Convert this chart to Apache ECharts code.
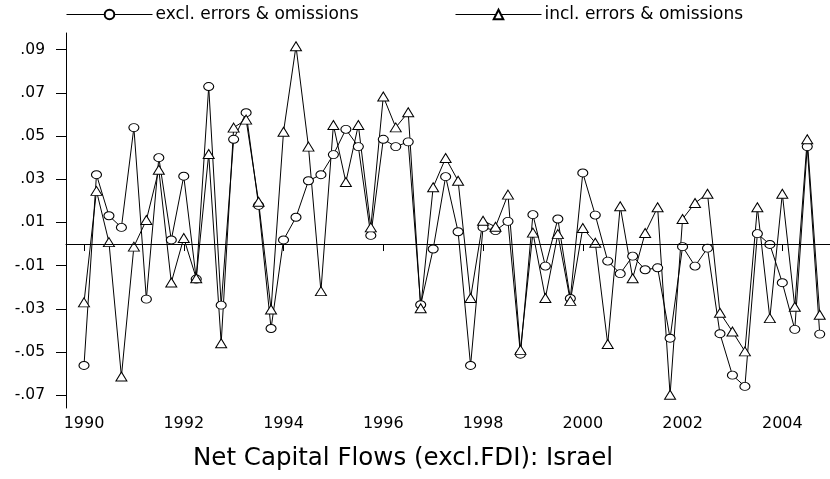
<!DOCTYPE html>
<html>
<head>
<meta charset="utf-8">
<script src="https://cdn.jsdelivr.net/npm/echarts@6/dist/echarts.min.js"></script>
<style>html,body{margin:0;padding:0;background:#fff}#c{width:830px;height:479px}</style>
</head>
<body>
<div id="c"></div>
<script>
// Quarterly observations, 1990Q1 .. 2004Q4 (decimal years)
var quarters = [
  1990, 1990.25, 1990.5, 1990.75, 1991, 1991.25, 1991.5, 1991.75,
  1992, 1992.25, 1992.5, 1992.75, 1993, 1993.25, 1993.5, 1993.75,
  1994, 1994.25, 1994.5, 1994.75, 1995, 1995.25, 1995.5, 1995.75,
  1996, 1996.25, 1996.5, 1996.75, 1997, 1997.25, 1997.5, 1997.75,
  1998, 1998.25, 1998.5, 1998.75, 1999, 1999.25, 1999.5, 1999.75,
  2000, 2000.25, 2000.5, 2000.75, 2001, 2001.25, 2001.5, 2001.75,
  2002, 2002.25, 2002.5, 2002.75, 2003, 2003.25, 2003.5, 2003.75,
  2004, 2004.25, 2004.5, 2004.75
];
var exclEO = [
  -0.0562, 0.0321, 0.0131, 0.0077, 0.0539, -0.0255, 0.0400, 0.0019, 0.0314, -0.0162,
  0.0729, -0.0283, 0.0485, 0.0608, 0.0179, -0.0391, 0.0019, 0.0124, 0.0293, 0.0321,
  0.0414, 0.0531, 0.0451, 0.0040, 0.0485, 0.0451, 0.0473, -0.0281, -0.0023, 0.0312,
  0.0057, -0.0562, 0.0077, 0.0062, 0.0105, -0.0510, 0.0136, -0.0102, 0.0116, -0.0252,
  0.0329, 0.0134, -0.0079, -0.0137, -0.0056, -0.0119, -0.0110, -0.0436, -0.0012, -0.0102,
  -0.0019, -0.0415, -0.0607, -0.0659, 0.0048, -0.0002, -0.0179, -0.0395, 0.0451, -0.0417
];
var inclEO = [
  -0.0270, 0.0246, 0.0009, -0.0613, -0.0012, 0.0111, 0.0344, -0.0178, 0.0028, -0.0158,
  0.0417, -0.0459, 0.0539, 0.0576, 0.0196, -0.0303, 0.0520, 0.0916, 0.0451, -0.0218,
  0.0551, 0.0287, 0.0551, 0.0077, 0.0683, 0.0540, 0.0610, -0.0297, 0.0263, 0.0398,
  0.0293, -0.0250, 0.0108, 0.0080, 0.0229, -0.0490, 0.0053, -0.0250, 0.0046, -0.0263,
  0.0074, 0.0006, -0.0463, 0.0175, -0.0158, 0.0051, 0.0170, -0.0698, 0.0116, 0.0190,
  0.0233, -0.0318, -0.0405, -0.0497, 0.0170, -0.0343, 0.0233, -0.0290, 0.0485, -0.0327
];
var xTicks = [1990, 1992, 1994, 1996, 1998, 2000, 2002, 2004];
var yTicks = [-0.07, -0.05, -0.03, -0.01, 0.01, 0.03, 0.05, 0.07, 0.09];
var seriesNames = ['excl. errors & omissions', 'incl. errors & omissions'];
var titleText = 'Net Capital Flows (excl.FDI): Israel';

function pairs(xs, ys) { return xs.map(function (x, i) { return [x, ys[i]]; }); }

var FONT = 'DejaVu Sans';
function legendAt(name, left) {
  return {
    data: [name], left: left, top: 6, padding: 0, itemWidth: 86, itemHeight: 12, itemGap: 0,
    lineStyle: {width: 1, color: '#000'},
    textStyle: {fontFamily: FONT, fontSize: 17, color: '#000', padding: [0, 0, 0, -2]}
  };
}
var chart = echarts.init(document.getElementById('c'), null, {renderer: 'canvas'});
chart.setOption({
  animation: false,
  backgroundColor: '#fff',
  title: {
    text: titleText, left: 403, top: 446, textAlign: 'center', padding: 0,
    textStyle: {fontFamily: FONT, fontSize: 24.5, fontWeight: 'normal', color: '#000'}
  },
  legend: [legendAt(seriesNames[0], 66), legendAt(seriesNames[1], 455)],
  grid: {left: 66, right: 0, top: 33, bottom: 71, containLabel: false},
  xAxis: {
    type: 'value', min: 1989.639, max: 2004.956,
    axisLine: {show: true, lineStyle: {color: '#000', width: 1}},
    axisTick: {show: true, length: 7, customValues: xTicks, lineStyle: {color: '#000'}},
    axisLabel: {customValues: xTicks, margin: 8, color: '#000', fontFamily: FONT, fontSize: 16,
      formatter: function (v) { return String(Math.round(v)); }},
    splitLine: {show: false}
  },
  yAxis: {
    type: 'value', min: -0.0759, max: 0.0977,
    axisLine: {show: true, lineStyle: {color: '#000', width: 1}},
    axisTick: {show: true, length: 10, customValues: yTicks, lineStyle: {color: '#000'}},
    axisLabel: {customValues: yTicks, margin: 21, color: '#000', fontFamily: FONT, fontSize: 15.5,
      formatter: function (v) { return v.toFixed(2).replace('0.', '.'); }},
    splitLine: {show: false}
  },
  series: [
    {
      name: seriesNames[0], type: 'line', data: pairs(quarters, exclEO),
      symbol: 'circle', symbolSize: [10, 8], showAllSymbol: true,
      lineStyle: {color: '#000', width: 1},
      itemStyle: {color: '#fff', borderColor: '#000', borderWidth: 1},
      markLine: {
        silent: true, symbol: ['none', 'none'], label: {show: false},
        lineStyle: {color: '#000', width: 1, type: 'solid'},
        data: [[{coord: [quarters[0], 0]}, {coord: [quarters[quarters.length - 1], 0]}]]
      }
    },
    {
      name: seriesNames[1], type: 'line', data: pairs(quarters, inclEO),
      symbol: 'triangle', symbolSize: [11, 9], showAllSymbol: true,
      lineStyle: {color: '#000', width: 1},
      itemStyle: {color: '#fff', borderColor: '#000', borderWidth: 1}
    }
  ]
});
</script>
</body>
</html>
